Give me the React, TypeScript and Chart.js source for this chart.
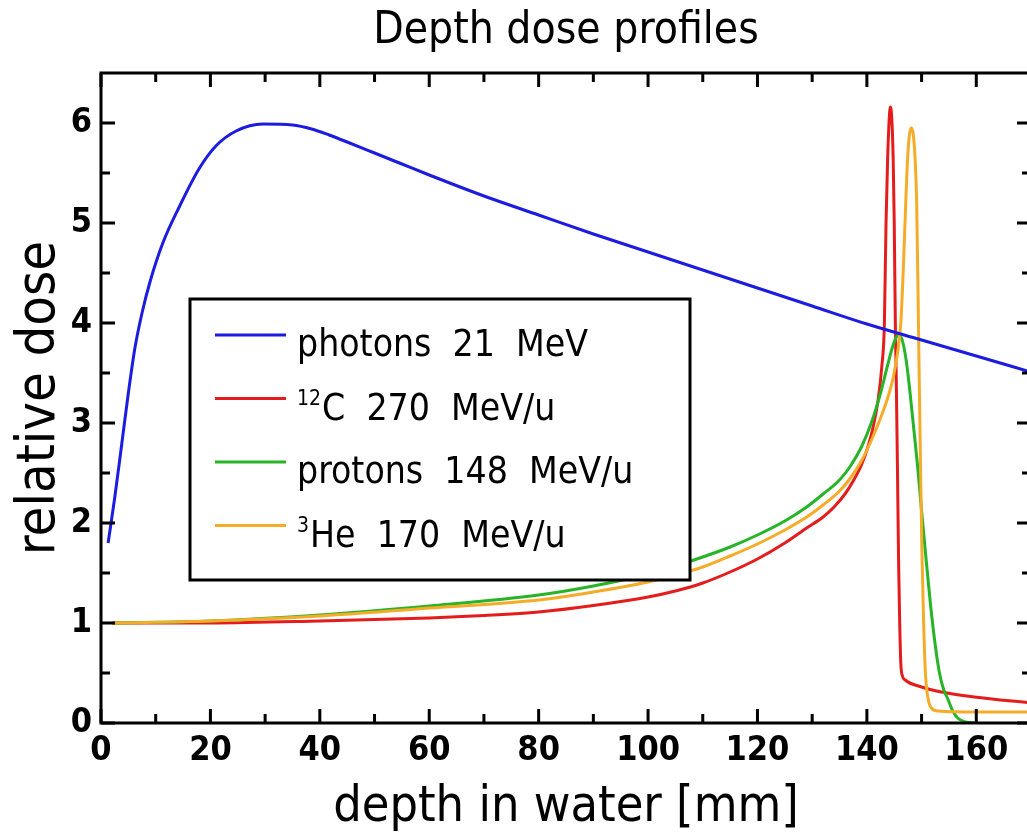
import React, { useEffect, useRef } from 'react';
import { Chart, registerables } from 'chart.js';

Chart.register(...registerables);

// ---------------- data ----------------
const TITLE = 'Depth dose profiles';
const X_TITLE = 'depth in water [mm]';
const Y_TITLE = 'relative dose';

const xTicks = [0, 20, 40, 60, 80, 100, 120, 140, 160];
const xMinorTicks = [10, 30, 50, 70, 90, 110, 130, 150];
const yTicks = [0, 1, 2, 3, 4, 5, 6];
const yMinorTicks = [0.5, 1.5, 2.5, 3.5, 4.5, 5.5];

const photonDepth = [1.3, 2.5, 3.7, 5.0, 6.2, 7.5, 9, 11.3, 14.3, 17.9, 21, 24.7, 29.6, 35, 38.5, 41.7, 45, 50, 55, 60, 70, 80, 90, 100, 110, 120, 130, 140, 150, 160, 170];
const photonDose = [1.8, 2.25, 2.75, 3.3, 3.75, 4.1, 4.42, 4.8, 5.16, 5.54, 5.77, 5.92, 5.99, 5.98, 5.94, 5.88, 5.81, 5.7, 5.59, 5.48, 5.27, 5.08, 4.89, 4.71, 4.53, 4.35, 4.17, 3.99, 3.83, 3.67, 3.51];

const carbonDepth = [2, 20, 40, 50, 60, 70, 80, 90, 100, 105, 110, 115, 120, 125, 129, 132, 134, 136, 137.5, 139, 140.3, 141.3, 142.1, 142.7, 143.2, 143.5, 143.8, 144.3, 144.8, 145.0, 145.2, 145.4, 145.6, 145.8, 146.0, 146.2, 146.5, 147, 150, 153.6, 159.6, 170];
const carbonDose = [1.0, 1.0, 1.02, 1.035, 1.05, 1.075, 1.11, 1.175, 1.26, 1.32, 1.4, 1.51, 1.64, 1.8, 1.95, 2.06, 2.16, 2.29, 2.42, 2.58, 2.78, 3.0, 3.25, 3.55, 4.0, 5.0, 5.66, 6.16, 5.66, 5.0, 4.0, 3.33, 2.5, 1.6, 1.0, 0.6, 0.47, 0.43, 0.36, 0.31, 0.26, 0.2];

const protonDepth = [2, 20, 40, 60, 80, 90, 100, 105, 110, 115, 120, 125, 129, 132, 135, 137, 139, 141, 142.5, 143.8, 144.8, 145.5, 146, 146.6, 147.2, 147.8, 148.5, 149.3, 150, 150.8, 151.6, 152.4, 153.2, 154, 154.8, 155.7, 156.6, 158, 160];
const protonDose = [1.0, 1.02, 1.08, 1.17, 1.28, 1.37, 1.49, 1.57, 1.66, 1.76, 1.88, 2.02, 2.16, 2.29, 2.43, 2.57, 2.76, 3.03, 3.3, 3.58, 3.78, 3.87, 3.88, 3.8, 3.62, 3.35, 2.98, 2.55, 2.12, 1.65, 1.2, 0.82, 0.52, 0.34, 0.24, 0.12, 0.05, 0.01, 0];

const heliumDepth = [2, 20, 40, 60, 80, 90, 100, 105, 110, 115, 120, 125, 129, 132, 135, 137, 139, 141, 142.5, 143.8, 144.8, 145.6, 146.2, 146.7, 147.1, 147.5, 148.1, 148.7, 149.1, 149.35, 149.55, 149.8, 150.05, 150.35, 150.7, 151.2, 151.8, 153, 160, 170];
const heliumDose = [1.0, 1.02, 1.07, 1.15, 1.23, 1.31, 1.41, 1.48, 1.56, 1.67, 1.79, 1.93, 2.06, 2.18, 2.32, 2.45, 2.62, 2.85, 3.05, 3.25, 3.45, 3.7, 4.0, 4.6, 5.2, 5.7, 5.95, 5.75, 5.2, 4.3, 3.5, 2.6, 1.75, 1.05, 0.5, 0.24, 0.15, 0.12, 0.11, 0.11];

const legendSup = ['', '12', '', '3'];
const legendText = ['photons  21  MeV', 'C  270  MeV/u', 'protons  148  MeV/u', 'He  170  MeV/u'];
const seriesColors = ['rgb(28,28,225)', 'rgb(228,28,28)', 'rgb(40,180,40)', 'rgb(245,172,40)'];

// ---------------- styling ----------------
const FONT = '"DejaVu Sans Condensed", "DejaVu Sans", sans-serif';
const TICK_FONT = '"DejaVu Sans Condensed", "DejaVu Sans", sans-serif';

const pts = (xs: number[], ys: number[]) => xs.map((x, i) => ({ x, y: ys[i] }));

const framePlugin = {
  id: 'frameTicks',
  afterDatasetsDraw(chart: any) {
    const { ctx, chartArea: a, scales } = chart;
    const xs = scales.x;
    const ys = scales.y;
    ctx.save();
    ctx.strokeStyle = '#000';
    ctx.lineWidth = 3;
    ctx.lineCap = 'butt';
    const vt = (v: number, len: number) => {
      const p = xs.getPixelForValue(v);
      ctx.beginPath();
      ctx.moveTo(p, a.bottom);
      ctx.lineTo(p, a.bottom - len);
      ctx.moveTo(p, a.top);
      ctx.lineTo(p, a.top + len);
      ctx.stroke();
    };
    const ht = (v: number, len: number) => {
      const p = ys.getPixelForValue(v);
      ctx.beginPath();
      ctx.moveTo(a.left, p);
      ctx.lineTo(a.left + len, p);
      ctx.moveTo(a.right, p);
      ctx.lineTo(a.right - len, p);
      ctx.stroke();
    };
    xTicks.forEach((v) => vt(v, 14));
    xMinorTicks.forEach((v) => vt(v, 9));
    yTicks.forEach((v) => ht(v, 14));
    yMinorTicks.forEach((v) => ht(v, 9));
    ctx.strokeRect(a.left, a.top, a.right - a.left, a.bottom - a.top);

    // legend box
    const left = a.left + 89;
    const top = a.top + 226;
    const w = 500;
    const h = 281;
    ctx.fillStyle = '#fff';
    ctx.fillRect(left, top, w, h);
    ctx.strokeRect(left, top, w, h);
    legendText.forEach((txt, i) => {
      const ly = top + 36 + i * 63.5;
      ctx.strokeStyle = seriesColors[i];
      ctx.lineWidth = 3;
      ctx.beginPath();
      ctx.moveTo(left + 25, ly);
      ctx.lineTo(left + 96, ly);
      ctx.stroke();
      ctx.fillStyle = '#000';
      ctx.textBaseline = 'alphabetic';
      ctx.textAlign = 'left';
      let tx = left + 107;
      const base = ly + 21;
      if (legendSup[i]) {
        ctx.font = `21px ${FONT}`;
        ctx.fillText(legendSup[i], tx, base - 15);
        tx += ctx.measureText(legendSup[i]).width + 1;
      }
      ctx.font = `37px ${FONT}`;
      ctx.fillText(txt, tx, base);
    });
    ctx.restore();
  },
};

export default function App() {
  const ref = useRef<HTMLCanvasElement>(null);
  useEffect(() => {
    if (!ref.current) return;
    const mk = (label: string, xs: number[], ys: number[], color: string, order: number) => ({
      label,
      data: pts(xs, ys),
      borderColor: color,
      backgroundColor: color,
      borderWidth: 3,
      pointRadius: 0,
      fill: false,
      cubicInterpolationMode: 'monotone' as const,
      order,
    });
    const chart = new Chart(ref.current, {
      type: 'line',
      data: {
        datasets: [
          mk(legendText[0], photonDepth, photonDose, seriesColors[0], 0),
          mk(legendText[1], carbonDepth, carbonDose, seriesColors[1], 3),
          mk(legendText[2], protonDepth, protonDose, seriesColors[2], 2),
          mk(legendText[3], heliumDepth, heliumDose, seriesColors[3], 1),
        ],
      },
      options: {
        responsive: false,
        animation: false,
        devicePixelRatio: 1,
        layout: { padding: { left: 0, right: 9, top: 0, bottom: 0 } },
        plugins: {
          legend: { display: false },
          tooltip: { enabled: false },
          title: {
            display: true,
            text: TITLE,
            fullSize: false,
            color: '#000',
            font: { family: FONT, size: 44, weight: 'normal' },
            padding: { top: 5.6, bottom: 14.6 },
          },
        },
        scales: {
          x: {
            type: 'linear',
            min: 0,
            max: 170,
            grid: { display: false, drawTicks: false },
            border: { display: false },
            afterBuildTicks: (s: any) => {
              s.ticks = xTicks.map((v) => ({ value: v }));
            },
            afterFit: (s: any) => {
              s.height = 115;
            },
            ticks: {
              color: '#000',
              padding: 8,
              maxRotation: 0,
              font: { family: TICK_FONT, size: 34, weight: 'bold' },
            },
            title: {
              display: true,
              text: X_TITLE,
              color: '#000',
              font: { family: FONT, size: 50 },
              padding: { top: 0, bottom: 0 },
            },
          },
          y: {
            type: 'linear',
            min: 0,
            max: 6.5,
            grid: { display: false, drawTicks: false },
            border: { display: false },
            afterBuildTicks: (s: any) => {
              s.ticks = yTicks.map((v) => ({ value: v }));
            },
            afterFit: (s: any) => {
              s.width = 101;
            },
            ticks: {
              color: '#000',
              padding: 9,
              font: { family: TICK_FONT, size: 34, weight: 'bold' },
            },
            title: {
              display: true,
              text: Y_TITLE,
              color: '#000',
              font: { family: FONT, size: 54 },
              padding: { top: 8, bottom: 0 },
            },
          },
        },
      },
      plugins: [framePlugin],
    });
    return () => chart.destroy();
  }, []);
  return (
    <div style={{ position: 'fixed', left: 0, top: 0, width: 1027, height: 838, overflow: 'hidden', background: '#fff' }}>
      <canvas ref={ref} width={1040} height={838} style={{ width: 1040, height: 838, display: 'block' }} />
    </div>
  );
}
